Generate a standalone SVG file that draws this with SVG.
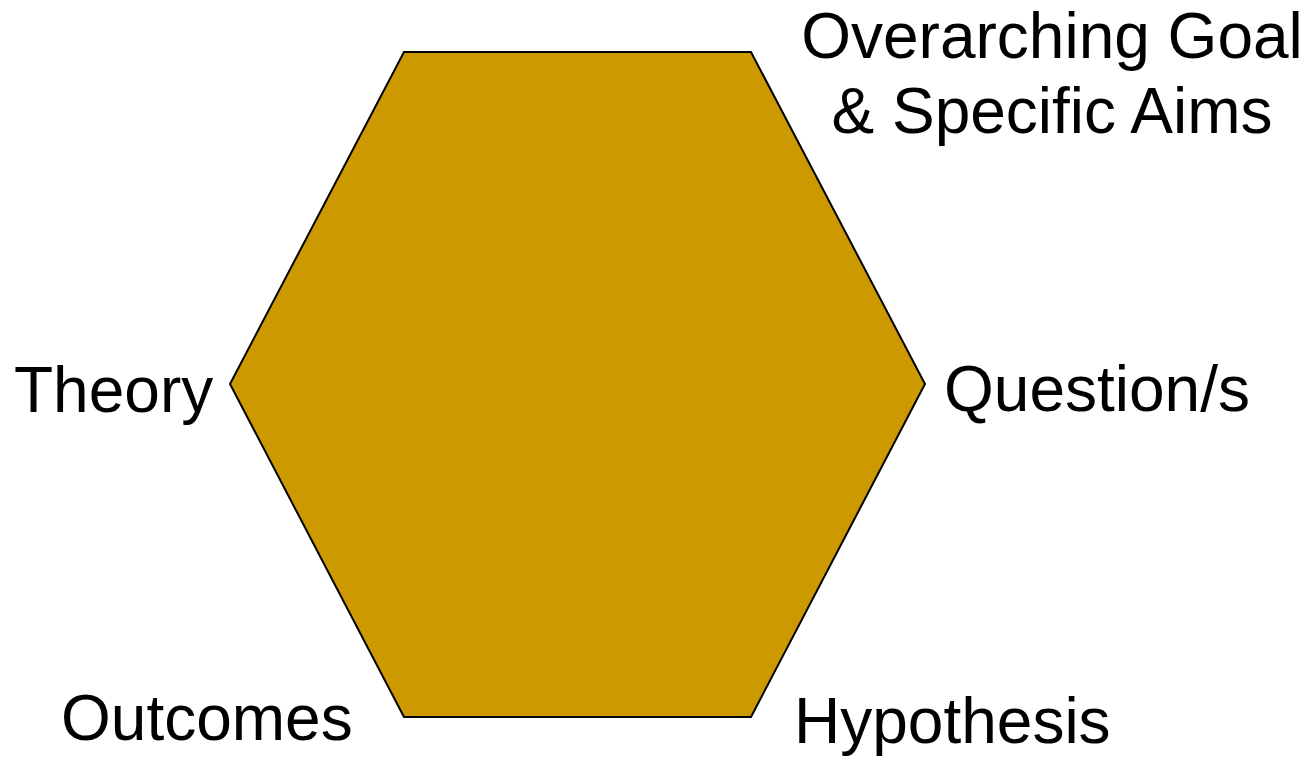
<svg xmlns="http://www.w3.org/2000/svg" width="1311" height="758" viewBox="0 0 1311 758">
<style>
.lbl{font-family:"Liberation Sans",Arial,sans-serif;font-size:64px;fill:#000}
.hex{fill:#CC9900;stroke:#000;stroke-width:2}
</style>
<rect width="1311" height="758" fill="#fff"/>
<g id="hexagon"><polygon class="hex" points="404,52 751,52 925,384 751,717 404,717 230,384"/></g>
<g id="goal"><text class="lbl" x="1052" y="58" text-anchor="middle">Overarching Goal</text><text class="lbl" x="1052" y="133" text-anchor="middle">&amp; Specific Aims</text></g>
<g id="theory"><text class="lbl" x="14" y="412">Theory</text></g>
<g id="question"><text class="lbl" x="944" y="411">Question/s</text></g>
<g id="outcomes"><text class="lbl" x="61" y="740">Outcomes</text></g>
<g id="hypothesis"><text class="lbl" x="794" y="743">Hypothesis</text></g>
<g id="connectors"/>
</svg>
